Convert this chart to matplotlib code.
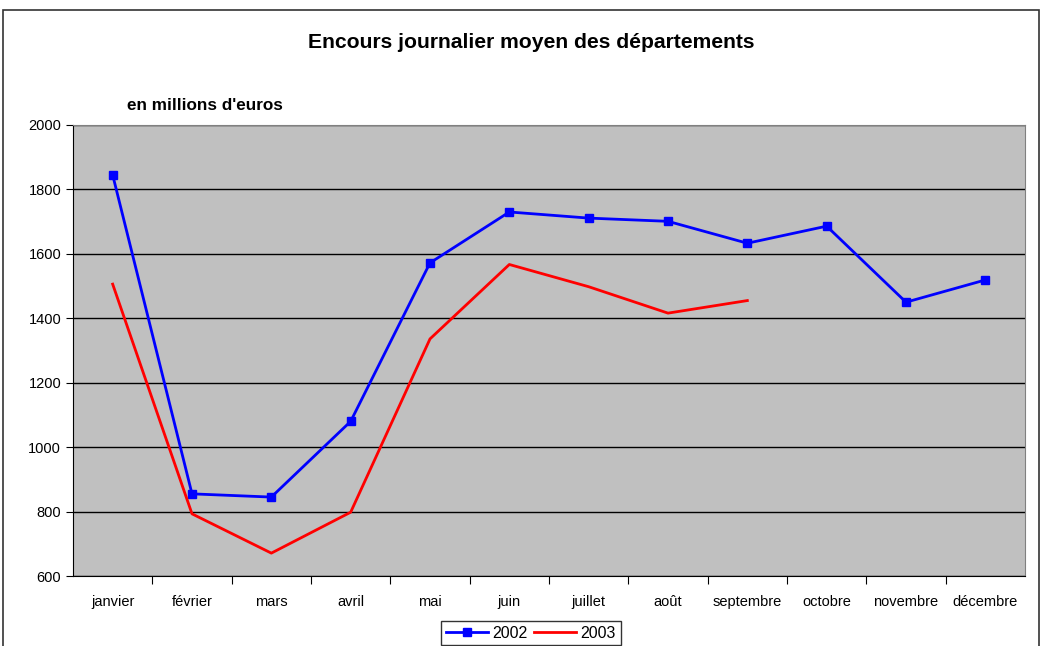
import matplotlib
matplotlib.use("Agg")
import matplotlib.pyplot as plt
from matplotlib.patches import Rectangle

months = ["janvier", "février", "mars", "avril", "mai", "juin", "juillet",
          "août", "septembre", "octobre", "novembre", "décembre"]
s2002 = [1845, 855, 845, 1080, 1572, 1730, 1711, 1701, 1633, 1686, 1450, 1519]
s2003 = [1506, 793, 671, 798, 1336, 1567, 1498, 1416, 1455]
yticks = [600, 800, 1000, 1200, 1400, 1600, 1800, 2000]

plt.rcParams['font.family'] = ['Liberation Sans', 'DejaVu Sans']

W, H = 1042, 646
fig = plt.figure(figsize=(W/100, H/100), dpi=100)
fig.patches.append(Rectangle((3/W, -0.1), 1036/W, 1 - 10/H + 0.1, transform=fig.transFigure,
                             fill=False, edgecolor='#333333', linewidth=1.2))

ax = fig.add_axes([73/W, 1 - 576/H, (1025-73)/W, (576-125)/H])
ax.set_facecolor('#c0c0c0')
x = list(range(len(months)))
ax.plot(x, s2002, color='#0000ff', lw=2, marker='s', ms=6, label='2002')
ax.plot(x[:len(s2003)], s2003, color='#ff0000', lw=2, label='2003')
ax.set_xlim(-0.5, len(months) - 0.5)
ax.set_ylim(600, 2000)
ax.set_yticks(yticks)
ax.set_yticklabels([str(v) for v in yticks], fontsize=10.5)
ax.yaxis.grid(True, color='black', lw=1)
ax.set_axisbelow(True)
ax.set_xticks([i + 0.5 for i in range(len(months) - 1)])
ax.set_xticklabels([])
ax.set_xticks(x, minor=True)
ax.set_xticklabels(months, minor=True, fontsize=10.5)
ax.tick_params(axis='x', which='minor', length=0, pad=14)
ax.tick_params(axis='x', which='major', length=6, direction='out')
ax.tick_params(axis='y', length=5, direction='out')
for s in ['top', 'right']:
    ax.spines[s].set_color('#808080')
ax.spines['left'].set_color('black')
ax.spines['bottom'].set_color('black')

fig.text(531/W, 1 - 43/H, "Encours journalier moyen des départements", ha='center', va='center',
         fontsize=15.2, fontweight='bold')
fig.text(127/W, 1 - 106/H, "en millions d'euros", ha='left', va='center',
         fontsize=12.3, fontweight='bold')

leg = fig.legend(loc='center', bbox_to_anchor=(531/W, 1 - 633/H), ncol=2, frameon=True,
                 fontsize=11.5, fancybox=False, edgecolor='black', handlelength=2.6,
                 columnspacing=0.4, handletextpad=0.3, borderpad=0.3, markerscale=0.9)
leg.get_frame().set_linewidth(1)

fig.savefig("out.png", dpi=100)
